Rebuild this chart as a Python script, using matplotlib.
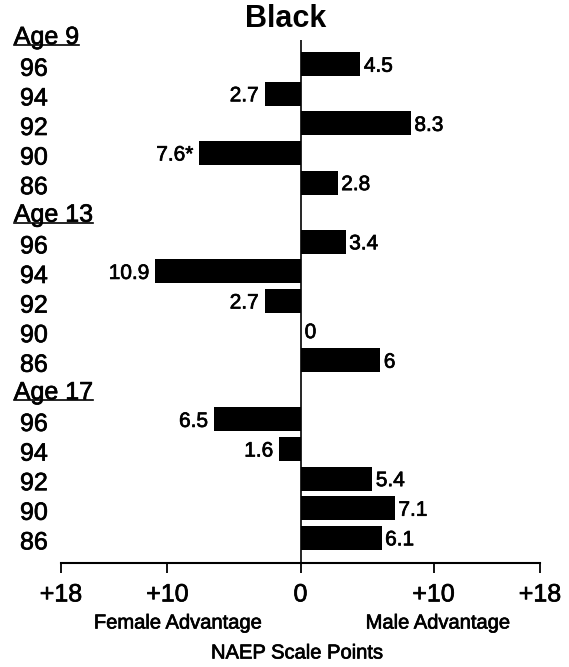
import matplotlib
matplotlib.use("Agg")
import matplotlib.pyplot as plt
import matplotlib.patheffects as pe
from matplotlib.transforms import blended_transform_factory
from matplotlib.lines import Line2D

plt.rcParams['font.family'] = ['Liberation Sans', 'DejaVu Sans']

title = "Black"
age_groups = ["Age 9", "Age 13", "Age 17"]
years = ["96", "94", "92", "90", "86"]
# positive = male advantage, negative = female advantage
gap_age9 = [4.5, -2.7, 8.3, -7.6, 2.8]
gap_age13 = [3.4, -10.9, -2.7, 0.0, 6.0]
gap_age17 = [-6.5, -1.6, 5.4, 7.1, 6.1]
labels_age9 = ["4.5", "2.7", "8.3", "7.6*", "2.8"]
labels_age13 = ["3.4", "10.9", "2.7", "0", "6"]
labels_age17 = ["6.5", "1.6", "5.4", "7.1", "6.1"]
tick_values = [-18, -10, 0, 10, 18]
tick_labels = ["+18", "+10", "0", "+10", "+18"]
female_label = "Female Advantage"
male_label = "Male Advantage"
xlabel = "NAEP Scale Points"

heavy = [pe.withStroke(linewidth=0.5, foreground='black')]

W, H = 569, 667
fig = plt.figure(figsize=(W / 100, H / 100), dpi=100)
ax = fig.add_axes([61 / W, (H - 562.7) / H, 479 / W, (562.7 - 40) / H])

gaps = [gap_age9, gap_age13, gap_age17]
labels = [labels_age9, labels_age13, labels_age17]

trans = blended_transform_factory(ax.transAxes, ax.transData)
header_texts = []
for g, (name, vals, labs) in enumerate(zip(age_groups, gaps, labels)):
    header_slot = g * 6
    t = ax.text(-0.0985, header_slot, name, transform=trans, ha='left',
                va='center_baseline', fontsize=18, clip_on=False,
                path_effects=heavy)
    header_texts.append(t)
    slots = [header_slot + 1 + i for i in range(len(vals))]
    ax.barh(slots, vals, height=0.81, color='black', zorder=2)
    for s, yr, v, lab in zip(slots, years, vals, labs):
        ax.text(-0.0856, s + 0.07, yr, transform=trans, ha='left',
                va='center_baseline', fontsize=18, clip_on=False,
                path_effects=heavy)
        if v >= 0:
            ax.annotate(lab, (v, s), xytext=(2.5 if v > 0 else 3, 0),
                        textcoords='offset points', ha='left',
                        va='center_baseline', fontsize=15, path_effects=heavy)
        else:
            ax.annotate(lab, (v, s), xytext=(-4.3, 0),
                        textcoords='offset points', ha='right',
                        va='center_baseline', fontsize=15, path_effects=heavy)

ax.axvline(0, color='black', lw=1.2, zorder=3)
ax.set_xlim(-18, 18)
ax.set_ylim(17.84, 0.182)
for sp in ['left', 'top', 'right']:
    ax.spines[sp].set_visible(False)
ax.spines['bottom'].set_linewidth(1.5)
ax.set_yticks([])
ax.set_xticks(tick_values)
ax.set_xticklabels(tick_labels, fontsize=18)
for lbl in ax.get_xticklabels():
    lbl.set_path_effects(heavy)
ax.tick_params(axis='x', direction='out', length=7.2, width=1.3, pad=7)

fig.text(286 / W, 1 - 19 / H, title, ha='center', va='center',
         fontsize=22, fontweight='bold')
fig.text(178 / W, 1 - 623 / H, female_label, ha='center', va='center',
         fontsize=14.5, path_effects=heavy)
fig.text(438 / W, 1 - 623 / H, male_label, ha='center', va='center',
         fontsize=14.5, path_effects=heavy)
fig.text(297 / W, 1 - 653 / H, xlabel, ha='center', va='center',
         fontsize=14.5, path_effects=heavy)

# underline the age-group headers
fig.canvas.draw()
renderer = fig.canvas.get_renderer()
for t in header_texts:
    bb = t.get_window_extent(renderer)
    x0, x1 = bb.x0 / W, bb.x1 / W
    y = (bb.y0 + 0.3 * (bb.y1 - bb.y0) * 0.55) / H
    fig.add_artist(Line2D([x0, x1], [y, y], color='black', lw=1.2,
                          transform=fig.transFigure))

fig.savefig("out.png", dpi=100)
